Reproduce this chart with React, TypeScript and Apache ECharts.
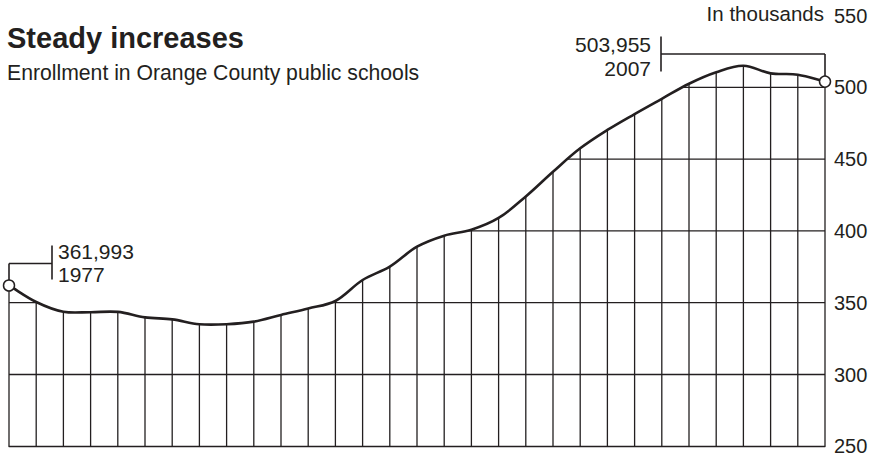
import React, { useEffect, useRef } from "react";
import * as echarts from "echarts";

const years = [
  "1977", "1978", "1979", "1980", "1981", "1982", "1983", "1984", "1985", "1986",
  "1987", "1988", "1989", "1990", "1991", "1992", "1993", "1994", "1995", "1996",
  "1997", "1998", "1999", "2000", "2001", "2002", "2003", "2004", "2005", "2006", "2007",
];
const enrollment = [
  361.993, 350.5, 343.7, 343.4, 343.6, 339.8, 338.4, 335.0, 335.0, 336.8,
  341.5, 346.0, 351.2, 365.8, 375.1, 389.0, 396.7, 400.8, 409.0, 424.0,
  441.2, 457.5, 470.3, 481.4, 492.0, 502.5, 510.5, 515.0, 509.7, 508.8, 503.955,
];
const yTicks = [250, 300, 350, 400, 450, 500, 550];
const gridValues = [300, 350, 400, 450, 500];
const startLabel = ["361,993", "1977"];
const endLabel = ["503,955", "2007"];
const title = "Steady increases";
const subtitle = "Enrollment in Orange County public schools";
const unitLabel = "In thousands";

const FONT = "'Liberation Sans', Arial, Helvetica, sans-serif";
const INK = "#231f20";
const SMOOTH = 0.35;

export default function App() {
  const ref = useRef<HTMLDivElement>(null);

  useEffect(() => {
    if (!ref.current) return;
    const chart = echarts.init(ref.current, undefined, { renderer: "svg" });
    const yMin = yTicks[0];
    const yMax = yTicks[yTicks.length - 1];
    const last = enrollment.length - 1;
    const topGrid = gridValues[gridValues.length - 1];

    const tx = (text: string, x: number, y: number, align: string, size: number) => ({
      type: "text",
      x,
      y,
      style: {
        text,
        fill: INK,
        font: `normal ${size}px ${FONT}`,
        align,
        verticalAlign: "middle",
      },
    });
    const seg = (x1: number, y1: number, x2: number, y2: number, w: number) => ({
      type: "line",
      shape: { x1, y1, x2, y2 },
      style: { stroke: INK, lineWidth: w },
    });

    const renderBody = (params: any, api: any) => {
      const pts: number[][] = enrollment.map((v, i) => api.coord([i, v]));
      const p0 = pts[0];
      const pn = pts[last];
      const yBottom = api.coord([0, yMin])[1];
      const yCover = api.coord([0, topGrid])[1] - 2.5;
      const children: any[] = [];

      // horizontal grid lines (full width, covered above the curve)
      gridValues.forEach((g) => {
        const y = api.coord([0, g])[1];
        children.push(seg(p0[0], y, pn[0], y, 1.3));
      });

      // white cover above the curve (same smoothing as the curve)
      const curvePts = [p0, ...pts, pn];
      const c1 = [p0[0], yCover];
      const c2 = [pn[0], yCover];
      children.push({
        type: "polygon",
        shape: { points: [c1, c1, ...curvePts, c2, c2], smooth: SMOOTH },
        style: { fill: "#ffffff", stroke: "none", lineWidth: 0 },
      });

      // vertical lines from baseline to each year's value
      pts.forEach((p) => children.push(seg(p[0], yBottom, p[0], p[1], 1.3)));

      // the enrollment curve
      children.push({
        type: "polyline",
        shape: { points: curvePts, smooth: SMOOTH },
        style: { stroke: INK, lineWidth: 2.6, fill: "none", lineJoin: "round" },
      });

      // end markers
      [p0, pn].forEach((p) =>
        children.push({
          type: "circle",
          shape: { cx: p[0], cy: p[1], r: 5.5 },
          style: { fill: "#ffffff", stroke: INK, lineWidth: 1.5 },
        })
      );

      // 1977 annotation
      children.push(seg(p0[0], p0[1] - 5.5, p0[0], p0[1] - 22, 1.6));
      children.push(seg(p0[0], p0[1] - 22, p0[0] + 43, p0[1] - 22, 1.6));
      children.push(seg(p0[0] + 43, p0[1] - 40, p0[0] + 43, p0[1] - 6, 1.6));
      children.push(tx(startLabel[0], p0[0] + 49, p0[1] - 34, "left", 21));
      children.push(tx(startLabel[1], p0[0] + 49, p0[1] - 11, "left", 21));

      // 2007 annotation
      children.push(seg(pn[0], pn[1] - 5.5, pn[0], pn[1] - 27.6, 1.6));
      children.push(seg(pn[0], pn[1] - 27.6, pn[0] - 164, pn[1] - 27.6, 1.6));
      children.push(seg(pn[0] - 164, pn[1] - 45, pn[0] - 164, pn[1] - 10, 1.6));
      children.push(tx(endLabel[0], pn[0] - 174, pn[1] - 37, "right", 21));
      children.push(tx(endLabel[1], pn[0] - 174, pn[1] - 13, "right", 21));

      return { type: "group", children };
    };

    chart.setOption({
      animation: false,
      grid: { left: 9, right: 51, top: 15.5, bottom: 15.7 },
      xAxis: {
        type: "category",
        data: years,
        boundaryGap: false,
        axisLine: { show: true, onZero: false, lineStyle: { color: INK, width: 1.3 } },
        axisTick: { show: false },
        axisLabel: { show: false },
        splitLine: { show: false },
      },
      yAxis: {
        type: "value",
        position: "right",
        min: yMin,
        max: yMax,
        interval: 50,
        axisLine: { show: false },
        axisTick: { show: false },
        splitLine: { show: false },
        axisLabel: {
          margin: 9,
          color: INK,
          fontFamily: FONT,
          fontSize: 20,
          padding: [4, 0, 0, 0],
        },
      },
      series: [
        {
          type: "custom",
          name: "enrollment",
          clip: false,
          silent: true,
          data: [[0, enrollment[0]]],
          renderItem: renderBody,
        },
      ],
    });

    const pEnd = chart.convertToPixel({ gridIndex: 0 }, [last, enrollment[last]]) as number[];
    const gtxt = (text: string, x: number, y: number, align: string, size: number, weight = "normal") => ({
      type: "text",
      z: 100,
      x,
      y,
      style: {
        text,
        fill: INK,
        font: `${weight} ${size}px ${FONT}`,
        align,
        verticalAlign: "middle",
      },
    });

    chart.setOption({
      graphic: [
        gtxt(title, 7, 38, "left", 29, "bold"),
        gtxt(subtitle, 7, 72, "left", 21.2),
        gtxt(unitLabel, pEnd[0] - 1, 13, "right", 20.5),
      ],
    });

    return () => chart.dispose();
  }, []);

  return <div ref={ref} style={{ width: 876, height: 462, position: "absolute", left: 0, top: 0 }} />;
}
